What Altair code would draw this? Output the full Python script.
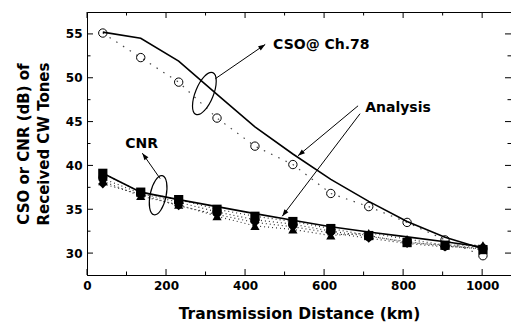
import altair as alt
import pandas as pd

# ---- data ----
km = [40, 136, 232, 329, 425, 521, 617, 713, 810, 906, 1002]
cso_measured = [55.1, 52.3, 49.5, 45.4, 42.2, 40.1, 36.8, 35.3, 33.5, 31.5, 29.7]
cso_analysis = [55.2, 54.5, 51.9, 48.1, 44.4, 41.3, 38.4, 35.9, 33.6, 31.8, 30.5]
cnr_analysis = [39.1, 36.95, 36.1, 35.3, 34.5, 33.75, 33.0, 32.4, 31.85, 31.3, 30.7]
cnr_square = [39.1, 36.95, 36.1, 35.0, 34.2, 33.6, 32.8, 32.0, 31.2, 30.9, 30.4]
cnr_circle = [38.5, 36.8, 35.8, 34.7, 33.8, 33.3, 32.5, 31.9, 31.3, 30.8, 30.5]
cnr_diamond = [37.9, 36.7, 35.4, 34.4, 33.5, 33.0, 32.3, 31.7, 31.1, 30.7, 30.7]
cnr_triangle = [38.2, 36.5, 35.5, 34.2, 33.1, 32.7, 32.0, 32.3, 31.6, 30.9, 30.9]

x_major = [0, 200, 400, 600, 800, 1000]
x_minor = [100, 300, 500, 700, 900]
y_major = [30, 35, 40, 45, 50, 55]
y_minor = [32.5, 37.5, 42.5, 47.5, 52.5]

label_text = ["CSO@ Ch.78", "Analysis", "CNR"]
label_km = [471, 704, 97]
label_db = [53.7, 46.5, 42.5]

arrow_from_km = [325, 686, 691, 185]
arrow_from_db = [49.9, 46.8, 45.9, 38.5]
arrow_to_km = [451, 534, 494, 140]
arrow_to_db = [53.8, 41.1, 34.2, 41.4]
arrow_angle = [56, 230, 217, 324]

loop_km = [297, 180]
loop_db = [48.2, 36.6]
loop_angle = [22, 12]
loop_size = [2025, 1600]

W, H = 424, 263
FONT = "DejaVu Sans"

# ---- tables ----
cso_df = pd.DataFrame({"km": km, "meas": cso_measured, "anal": cso_analysis})
cnr_anal_df = pd.DataFrame({"km": km, "db": cnr_analysis})
series = {"square": cnr_square, "circle": cnr_circle,
          "diamond": cnr_diamond, "triangle-up": cnr_triangle}
cnr_df = pd.DataFrame([
    {"km": k, "db": v, "s": name}
    for name, vals in series.items() for k, v in zip(km, vals)
])
xmaj = pd.DataFrame({"km": x_major})
xmin = pd.DataFrame({"km": x_minor})
ymaj = pd.DataFrame({"db": y_major})
ymin = pd.DataFrame({"db": y_minor})
lab_df = pd.DataFrame({"km": label_km, "db": label_db, "t": label_text})
arr_df = pd.DataFrame({"km": arrow_from_km, "db": arrow_from_db,
                       "km2": arrow_to_km, "db2": arrow_to_db, "ang": arrow_angle})
loop_df = pd.DataFrame({"km": loop_km, "db": loop_db, "ang": loop_angle, "sz": loop_size})

xscale = alt.Scale(domain=[0, 1073], nice=False, zero=False)
yscale = alt.Scale(domain=[27.5, 57.5], nice=False, zero=False)
xaxis = alt.Axis(values=x_major, ticks=False, grid=False, domainColor="black",
                 labelFont=FONT, labelFontWeight="bold", labelFontSize=12,
                 labelColor="black", labelPadding=5, labelFlush=False, format="d",
                 title="Transmission Distance (km)", titleFont=FONT,
                 titleFontWeight="bold", titleFontSize=15.5, titleColor="black",
                 titlePadding=15)
yaxis = alt.Axis(values=y_major, ticks=False, grid=False, domainColor="black",
                 labelFont=FONT, labelFontWeight="bold", labelFontSize=12,
                 labelColor="black", labelPadding=5, labelFlush=False, format="d",
                 title=["CSO or CNR (dB) of", "Received CW Tones"], titleFont=FONT,
                 titleFontWeight="bold", titleFontSize=15, titleColor="black",
                 titlePadding=14, titleLineHeight=20)


def X(f="km"):
    return alt.X(f + ":Q", scale=xscale, axis=xaxis)


def Y(f="db"):
    return alt.Y(f + ":Q", scale=yscale, axis=yaxis)


base_cso = alt.Chart(cso_df)
cso_anal_line = base_cso.mark_line(color="black", strokeWidth=1.6).encode(x=X(), y=Y("anal"))
cso_meas_line = base_cso.mark_line(color="#444", strokeWidth=1.2, strokeDash=[1.5, 6.5]).encode(
    x=X(), y=Y("meas"))
cso_meas_pts = base_cso.mark_point(shape="circle", filled=False, color="black",
                                   strokeWidth=1, size=70, opacity=1).encode(x=X(), y=Y("meas"))

cnr_lines = alt.Chart(cnr_df).mark_line(color="#333", strokeWidth=1.2, strokeDash=[1, 3]).encode(
    x=X(), y=Y(), detail="s:N")
cnr_pts = alt.Chart(cnr_df).mark_point(filled=True, color="black", size=85, opacity=1).encode(
    x=X(), y=Y(),
    shape=alt.Shape("s:N", scale=alt.Scale(domain=list(series.keys()),
                                           range=list(series.keys())), legend=None))
cnr_anal_line = alt.Chart(cnr_anal_df).mark_line(color="black", strokeWidth=1.6).encode(
    x=X(), y=Y())

# inward ticks on all four sides
tick_color = "black"
bt_major = alt.Chart(xmaj).mark_rule(color=tick_color).encode(x=X(), y=alt.value(H), y2=alt.value(H - 6))
bt_minor = alt.Chart(xmin).mark_rule(color=tick_color).encode(x=X(), y=alt.value(H), y2=alt.value(H - 3.5))
tp_major = alt.Chart(xmaj).mark_rule(color=tick_color).encode(x=X(), y=alt.value(0), y2=alt.value(6))
tp_minor = alt.Chart(xmin).mark_rule(color=tick_color).encode(x=X(), y=alt.value(0), y2=alt.value(3.5))
lf_major = alt.Chart(ymaj).mark_rule(color=tick_color).encode(y=Y(), x=alt.value(0), x2=alt.value(6))
lf_minor = alt.Chart(ymin).mark_rule(color=tick_color).encode(y=Y(), x=alt.value(0), x2=alt.value(3.5))
rt_major = alt.Chart(ymaj).mark_rule(color=tick_color).encode(y=Y(), x=alt.value(W), x2=alt.value(W - 6))
rt_minor = alt.Chart(ymin).mark_rule(color=tick_color).encode(y=Y(), x=alt.value(W), x2=alt.value(W - 3.5))

# annotations
texts = alt.Chart(lab_df).mark_text(align="left", baseline="middle", font=FONT,
                                    fontWeight="bold", fontSize=14, color="black").encode(
    x=X(), y=Y(), text="t:N")
arrows = alt.Chart(arr_df).mark_rule(color="black", strokeWidth=1).encode(
    x=X(), y=Y(), x2=alt.X2("km2"), y2=alt.Y2("db2"))
heads = alt.Chart(arr_df).mark_point(shape="M0,0L-0.35,1L0.35,1Z", filled=True,
                                     color="black", size=196, opacity=1).encode(
    x=X("km2"), y=Y("db2"), angle=alt.Angle("ang:Q", scale=None))
a, k = 0.4, 0.5523
ka = round(k * a, 4)
ell = (f"M0,-1C{ka},-1 {a},-{k} {a},0C{a},{k} {ka},1 0,1"
       f"C-{ka},1 -{a},{k} -{a},0C-{a},-{k} -{ka},-1 0,-1Z")
loops = alt.Chart(loop_df).mark_point(shape=ell, filled=False, color="black",
                                      strokeWidth=1.2, opacity=1).encode(
    x=X(), y=Y(), angle=alt.Angle("ang:Q", scale=None), size=alt.Size("sz:Q", scale=None))

chart = alt.layer(
    cnr_lines, cso_meas_line, cso_anal_line, cnr_anal_line,
    cso_meas_pts, cnr_pts,
    bt_major, bt_minor, tp_major, tp_minor, lf_major, lf_minor, rt_major, rt_minor,
    arrows, heads, loops, texts,
).properties(
    width=W, height=H,
    autosize=alt.AutoSizeParams(type="none"),
    padding={"left": 79, "top": 4, "right": 0, "bottom": 50},
    background="white",
).configure_view(stroke="black", strokeWidth=1)

chart.save("out.html", embed_options={"renderer": "svg", "actions": False})
